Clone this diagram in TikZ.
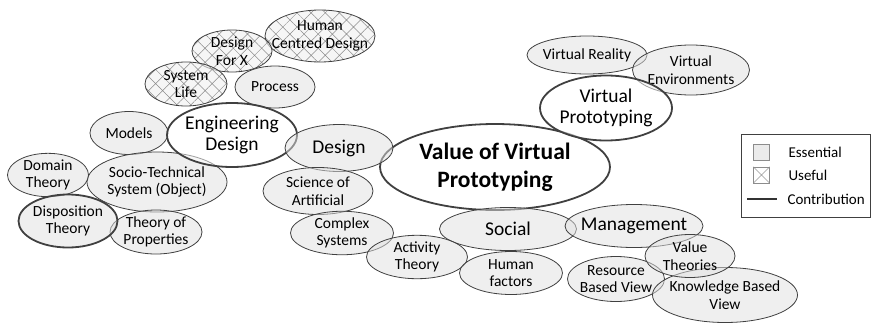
\documentclass[tikz,border=0pt]{standalone}
\usepackage{fontspec}
\setmainfont{Carlito}
\usetikzlibrary{shapes.geometric,shapes.misc,patterns.meta}

\begin{document}
\begin{tikzpicture}[x=1pt,y=-1pt]
  \tikzstyle{bubble}=[ellipse,draw=black!75,line width=0.8pt,fill=black!12,fill opacity=0.5,text opacity=1,inner xsep=-10pt,inner ysep=0pt,align=center,font=\fontsize{15.5}{17.5}\selectfont]
  \tikzstyle{useful}=[bubble,preaction={fill=black!6,fill opacity=0.6},pattern={Hatch[angle=45,distance=10pt,line width=0.5pt]},pattern color=black!45]
  \tikzstyle{contrib}=[line width=1.8pt]
  \tikzstyle{big}=[font=\fontsize{19.5}{21}\selectfont]
  \useasboundingbox (0,0) rectangle (872,324);

  \node[bubble,contrib,fill=white,font=\bfseries\fontsize{23.5}{28}\selectfont,minimum width=230pt,minimum height=86pt] (V_0) at (495,167) {Value of Virtual\\Prototyping};

  % engineering design branch
  \node[useful,minimum width=110pt,minimum height=52pt] (E_1) at (320,36) {Human\\Centred Design};
  \node[useful,minimum width=80pt,minimum height=42pt] (E_2) at (232,51) {Design\\For X};
  \node[useful,minimum width=82pt,minimum height=44pt] (E_3) at (186,84) {System\\Life};
  \node[bubble,minimum width=80pt,minimum height=42pt] (E_4) at (275,87) {Process};
  \node[bubble,minimum width=78pt,minimum height=43pt] (E_5) at (129,133) {Models};
  \node[bubble,minimum width=140pt,minimum height=60pt] (E_6) at (157,182) {Socio-Technical\\System (Object)};
  \node[bubble,contrib,big,fill=white,minimum width=130pt,minimum height=64pt] (E_0) at (232,135) {Engineering\\Design};
  \node[bubble,minimum width=81pt,minimum height=41pt] (E_7) at (48,175) {Domain\\Theory};
  \node[bubble,minimum width=92pt,minimum height=44pt] (E_9) at (156,232) {Theory of\\Properties};
  \node[bubble,contrib,minimum width=99pt,minimum height=53pt] (E_8) at (68,221) {Disposition\\Theory};

  % design branch
  \node[bubble,big,minimum width=108pt,minimum height=47pt] (D_0) at (339,148) {Design};
  \node[bubble,minimum width=110pt,minimum height=47pt] (D_1) at (318,191) {Science of\\Artificial};
  \node[bubble,minimum width=103pt,minimum height=42pt] (D_2) at (342,233) {Complex\\Systems};

  % social branch
  \node[bubble,big,minimum width=137pt,minimum height=43pt] (S_0) at (508,229) {Social};
  \node[bubble,minimum width=101pt,minimum height=43pt] (S_1) at (417,257) {Activity\\Theory};
  \node[bubble,minimum width=103pt,minimum height=43pt] (S_2) at (511,273) {Human\\factors};

  % management branch
  \node[bubble,big,minimum width=138pt,minimum height=43pt] (M_0) at (634,226) {Management};
  \node[bubble,minimum width=97pt,minimum height=45pt] (M_2) at (616,279) {Resource\\Based View};
  \node[bubble,minimum width=145pt,minimum height=55pt] (M_3) at (725,295) {Knowledge Based\\View};
  \node[bubble,minimum width=90pt,minimum height=43pt] (M_1) at (690,256) {Value\\Theories};

  % virtual prototyping branch
  \node[bubble,minimum width=120pt,minimum height=38pt] (P_1) at (587,55) {Virtual Reality};
  \node[bubble,minimum width=117pt,minimum height=50pt] (P_2) at (691,70) {Virtual\\Environments};
  \node[bubble,contrib,big,fill=white,minimum width=132pt,minimum height=65pt] (P_0) at (606,108) {Virtual\\Prototyping};

  % legend
  \node[draw=black!75,line width=0.6pt,minimum width=129pt,minimum height=83pt] (L_0) at (805.5,175.5) {};
  \node[draw=black!45,fill=black!8,minimum size=16pt] (L_1) at (761.5,152.5) {};
  \node[draw=black!40,fill=black!4,cross out,minimum size=16pt] (L_2) at (761.5,175) {};
  \node[draw=black!45,minimum size=16pt] at (L_2) {};
  \node[anchor=west,font=\fontsize{15}{17}\selectfont] (L_3) at (785,152.5) {Essential};
  \node[anchor=west,font=\fontsize{15}{17}\selectfont] (L_4) at (785,175) {Useful};
  \node[anchor=west,font=\fontsize{15}{17}\selectfont] (L_5) at (784,199) {Contribution};
  \coordinate (L_a) at (747,199);
  \coordinate (L_b) at (777,199);
  \draw[contrib,black!80] (L_a) -- (L_b);
\end{tikzpicture}
\end{document}
